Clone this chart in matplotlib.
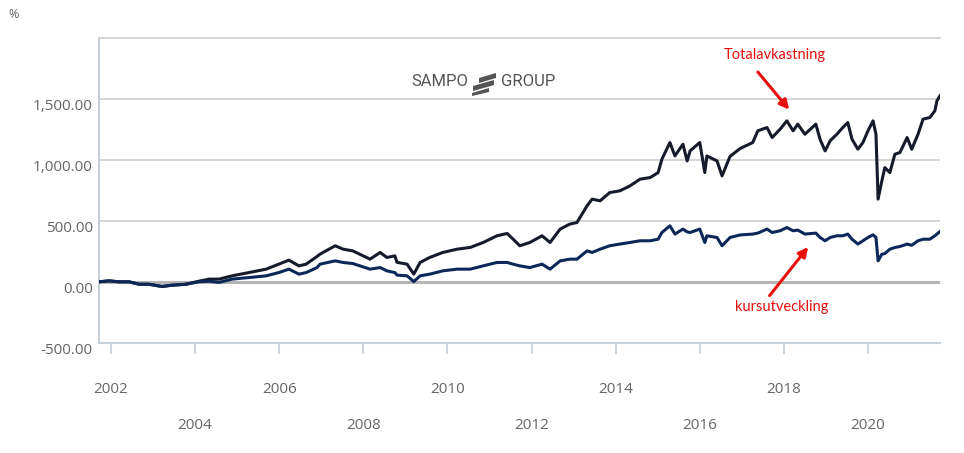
import matplotlib
matplotlib.use("Agg")
import matplotlib.pyplot as plt
from matplotlib.patches import Polygon
from matplotlib.ticker import FuncFormatter

# values (decimal year, % change since start)
years = [2001.72, 2001.95, 2002.19, 2002.43, 2002.67, 2002.90, 2003.21, 2003.45, 2003.78,
         2004.09, 2004.33, 2004.57, 2004.88, 2005.28, 2005.69, 2005.99, 2006.23, 2006.47,
         2006.64, 2006.90, 2006.97, 2007.33, 2007.52, 2007.75, 2008.16, 2008.40, 2008.56,
         2008.75, 2008.80, 2009.04, 2009.20, 2009.35, 2009.58, 2009.89, 2010.23, 2010.54,
         2010.85, 2011.18, 2011.42, 2011.56, 2011.72, 2011.96, 2012.25, 2012.44, 2012.68,
         2012.91, 2013.08, 2013.32, 2013.44, 2013.63, 2013.86, 2014.10, 2014.34, 2014.58,
         2014.82, 2015.01, 2015.10, 2015.29, 2015.41, 2015.60, 2015.70, 2015.77, 2016.00,
         2016.12, 2016.17, 2016.41, 2016.53, 2016.72, 2016.96, 2017.26, 2017.38, 2017.60,
         2017.72, 2017.91, 2018.07, 2018.22, 2018.33, 2018.50, 2018.76, 2018.86, 2018.98,
         2019.10, 2019.26, 2019.40, 2019.52, 2019.62, 2019.76, 2019.88, 2020.00, 2020.12,
         2020.19, 2020.24, 2020.33, 2020.40, 2020.52, 2020.64, 2020.76, 2020.93, 2021.04,
         2021.19, 2021.31, 2021.47, 2021.59, 2021.64, 2021.71]

total = [0, 8, 0, 0, -20, -20, -38, -28, -20,
         5, 22, 22, 49, 76, 104, 145, 178, 131,
         145, 208, 227, 296, 268, 254, 186, 241, 200,
         213, 160, 145, 63, 159, 200, 241, 268, 282,
         323, 378, 397, 351, 296, 323, 378, 323, 433,
         474, 487, 624, 679, 665, 733, 747, 788, 843,
         856, 897, 1007, 1144, 1034, 1130, 993, 1075, 1144,
         897, 1034, 993, 870, 1030, 1095, 1144, 1240, 1267,
         1185, 1253, 1322, 1240, 1295, 1212, 1295, 1171, 1075,
         1158, 1212, 1267, 1308, 1171, 1089, 1144, 1240, 1322,
         1212, 679, 829, 938, 897, 1048, 1062, 1185, 1089,
         1212, 1336, 1349, 1404, 1486, 1527]

kurs = [0, 8, 0, 0, -20, -20, -38, -28, -20,
        0, 5, -5, 22, 35, 49, 76, 104, 63,
        76, 117, 145, 172, 159, 150, 104, 117, 90,
        76, 55, 49, 2, 49, 63, 90, 104, 104,
        131, 159, 159, 145, 131, 117, 145, 104, 172,
        186, 186, 254, 241, 268, 296, 310, 323, 337,
        337, 350, 405, 460, 392, 433, 410, 405, 433,
        323, 378, 364, 296, 364, 385, 392, 400, 433,
        405, 419, 446, 419, 425, 392, 400, 364, 337,
        364, 378, 378, 392, 350, 310, 337, 364, 386,
        364, 172, 227, 232, 268, 282, 290, 310, 300,
        337, 350, 350, 378, 392, 413]

year_ticks_a = [2002, 2006, 2010, 2014, 2018]
year_ticks_b = [2004, 2008, 2012, 2016, 2020]
y_ticks = [-500, 0, 500, 1000, 1500]

axis_col = '#c5d0da'
grid_col = '#cdcdcd'
text_col = '#666666'
red = '#e8100c'

fig = plt.figure(figsize=(9.64, 4.53), dpi=100)
ax = fig.add_axes([0.1027, 0.2435, 0.8723, 0.672])

for v in [500, 1000, 1500]:
    ax.axhline(v, color=grid_col, linewidth=1.2, zorder=1)
ax.axhline(0, color='#b5b5b5', linewidth=2.2, zorder=1)

ax.plot(years, total, color='#151b2b', linewidth=2.2, zorder=3)
ax.plot(years, kurs, color='#0b2858', linewidth=2.2, zorder=3)

ax.set_xlim(2001.715, 2021.71)
ax.set_ylim(-500, 2000)

ax.spines['right'].set_visible(False)
ax.spines['top'].set_color(grid_col)
ax.spines['top'].set_linewidth(1.2)
ax.spines['left'].set_color(axis_col)
ax.spines['left'].set_linewidth(1.5)
ax.spines['bottom'].set_color(axis_col)
ax.spines['bottom'].set_linewidth(1.5)

ax.set_yticks(y_ticks)
ax.yaxis.set_major_formatter(FuncFormatter(lambda v, p: f'{v:,.2f}'))
ax.tick_params(axis='y', length=0, pad=4.5, labelsize=11, labelcolor=text_col)
plt.setp(ax.get_yticklabels(), va='top', family='Open Sans')

# year labels are staggered on two rows
ax.set_xticks(year_ticks_a)
ax.set_xticklabels([str(y) for y in year_ticks_a])
ax.set_xticks(year_ticks_b, minor=True)
ax.set_xticklabels([str(y) for y in year_ticks_b], minor=True)
ax.tick_params(axis='x', which='major', length=8, width=1.2, color=axis_col,
               pad=20.5, labelsize=11, labelcolor=text_col)
ax.tick_params(axis='x', which='minor', length=8, width=1.2, color=axis_col,
               pad=46.5, labelsize=11, labelcolor=text_col)
plt.setp(ax.get_xticklabels() + ax.get_xticklabels(minor=True), family='Open Sans')

fig.text(0.0145, 0.968, '%', fontsize=9, color=text_col, ha='center', va='center',
         family='Open Sans')

# annotations
ax.text(2017.79, 1864, 'Totalavkastning', color=red, fontsize=10.5, ha='center',
        va='center', family='Lato')
ax.annotate('', xy=(2018.17, 1396), xytext=(2017.34, 1740),
            arrowprops=dict(arrowstyle='-|>', color=red, lw=2.2, mutation_scale=14))
ax.text(2017.95, -205, 'kursutveckling', color=red, fontsize=10.5, ha='center',
        va='center', family='Lato')
ax.annotate('', xy=(2018.62, 304), xytext=(2017.62, -131),
            arrowprops=dict(arrowstyle='-|>', color=red, lw=2.2, mutation_scale=14))

# logo
logo_col = '#555555'
W, H = 964.0, 453.0
fig.text(439.5 / W, 1 - 82 / H, 'SAMPO', fontsize=12, color=logo_col, ha='center',
         va='center', family='Roboto')
fig.text(528.5 / W, 1 - 82 / H, 'GROUP', fontsize=12, color=logo_col, ha='center',
         va='center', family='Roboto')
bars = [[(479, 78), (496, 73), (496, 78), (479, 83)],
        [(473, 86), (494, 80), (494, 85), (473, 91)],
        [(472, 93), (489, 88), (489, 92), (472, 96)]]
for b in bars:
    fig.add_artist(Polygon([(x / W, 1 - y / H) for x, y in b], closed=True,
                           facecolor=logo_col, edgecolor='none',
                           transform=fig.transFigure))

fig.savefig('out.png', dpi=100, facecolor='white')
